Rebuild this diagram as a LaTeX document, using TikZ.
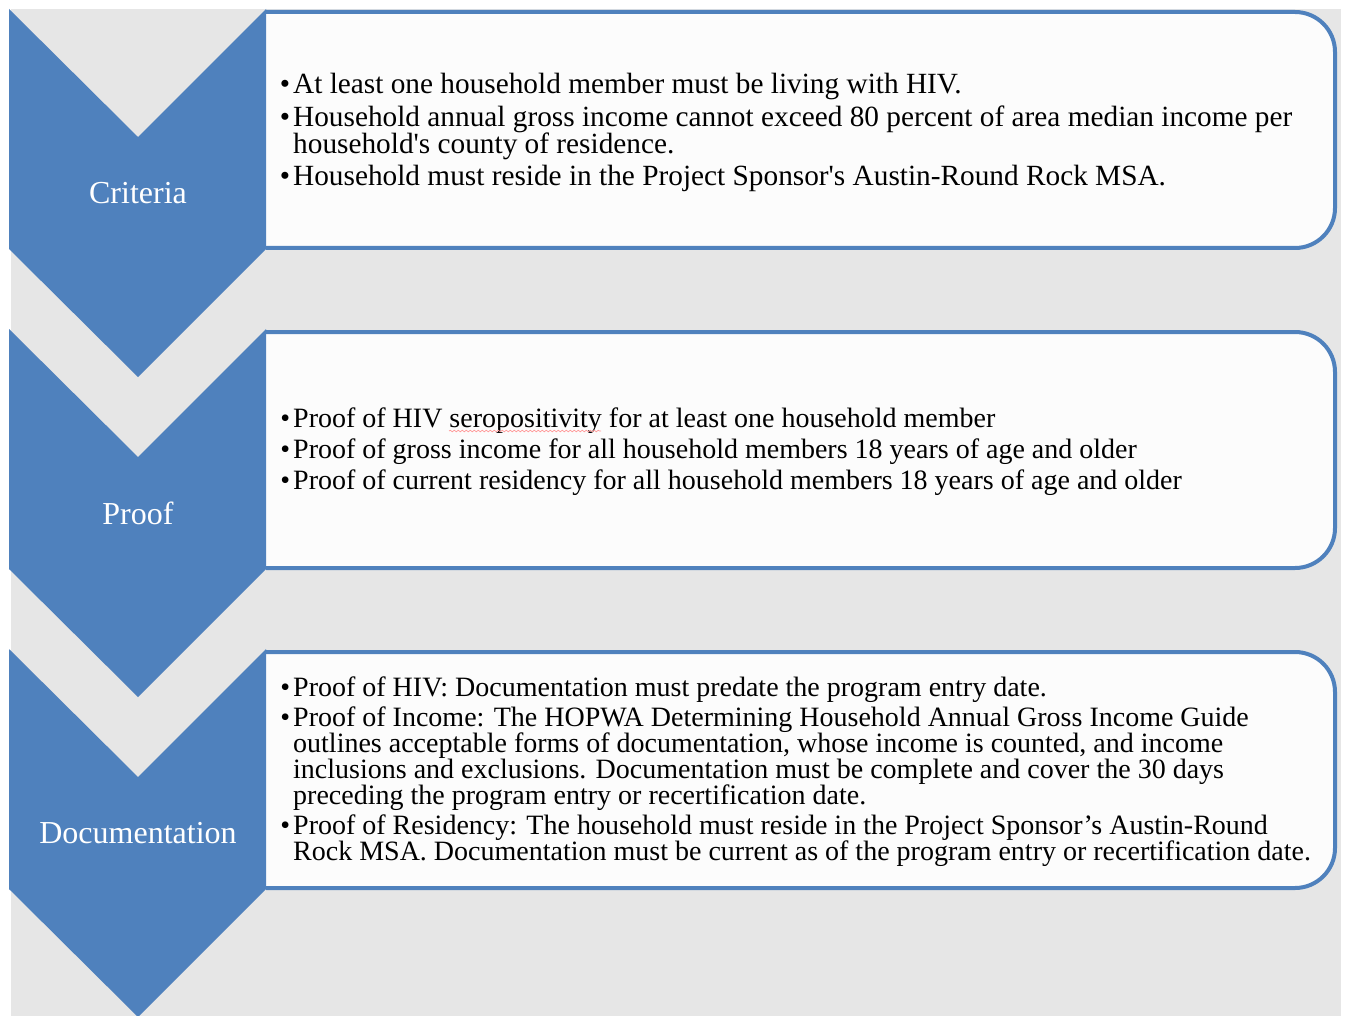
\documentclass[tikz,border=0pt]{standalone}
\usepackage{fontspec}
\setmainfont{Liberation Serif}[Ligatures=TeXOff]
\usetikzlibrary{decorations.pathmorphing}
\definecolor{chev}{HTML}{4F81BD}
\definecolor{panel}{HTML}{E6E6E6}
\definecolor{card}{HTML}{FCFCFC}
\newcommand\bul{\llap{\textbullet\hspace{3pt}}}
\begin{document}
\begin{tikzpicture}[x=1pt,y=-1pt,
  chevron/.style={fill=chev},
  cardbox/.style={fill=card,draw=chev,line width=4pt,rounded corners=40pt},
  steplabel/.style={text=white,font=\fontsize{32}{36}\selectfont,inner sep=0},
  body/.style={anchor=west,align=left,inner sep=0,font=\fontsize{28}{26}\selectfont}]

% page and panel
\fill[white] (0,0) rectangle (1348,1016);
\useasboundingbox (0,0) rectangle (1348,1016);
\fill[panel] (11,9) rectangle (1341,1016);

% cards (left edge hidden under the chevrons)
\foreach \dy in {0,320,640}{
  \filldraw[cardbox] (266,12+\dy) -- (1335,12+\dy) -- (1335,248+\dy) -- (266,248+\dy);
}

% chevrons
\foreach \dy in {0,320,640}{
  \fill[chevron] (9,9+\dy) -- (138,137+\dy) -- (266,9+\dy) -- (266,249+\dy)
    -- (138,377+\dy) -- (9,249+\dy) -- cycle;
}

% step labels
\node[steplabel] (crit) at (138,193) {Criteria};
\node[steplabel] (proof) at (138,513) {Proof};
\node[steplabel] (doc) at (138,833) {Documentation};

% card texts
\node[body, font=\fontsize{29.3}{27}\selectfont] (t1) at (293,132) {%
\bul At least one household member must be living with HIV.\\[6pt]
\bul Household annual gross income cannot exceed 80 percent of area median income per\\
household's county of residence.\\[5pt]
\bul Household must reside in the Project Sponsor's Austin-Round Rock MSA.};

\node[body] (t2) at (293,452) {%
\bul Proof of HIV seropositivity for at least one household member\\[5pt]
\bul Proof of gross income for all household members 18 years of age and older\\[5pt]
\bul Proof of current residency for all household members 18 years of age and older};

\node[body] (t3) at (293,772) {%
\bul Proof of HIV: Documentation must predate the program entry date.\\[4pt]
\bul Proof of Income: The HOPWA Determining Household Annual Gross Income Guide\\
outlines acceptable forms of documentation, whose income is counted, and income\\
inclusions and exclusions. Documentation must be complete and cover the 30 days\\
preceding the program entry or recertification date.\\[4pt]
\bul Proof of Residency: The household must reside in the Project Sponsor’s Austin-Round\\
Rock MSA. Documentation must be current as of the program entry or recertification date.};

% spell-check mark
\draw[red!40, line width=0.7pt, decorate,
  decoration={snake, amplitude=0.8pt, segment length=4pt}] (449,431) -- (601,431);
\end{tikzpicture}
\end{document}
